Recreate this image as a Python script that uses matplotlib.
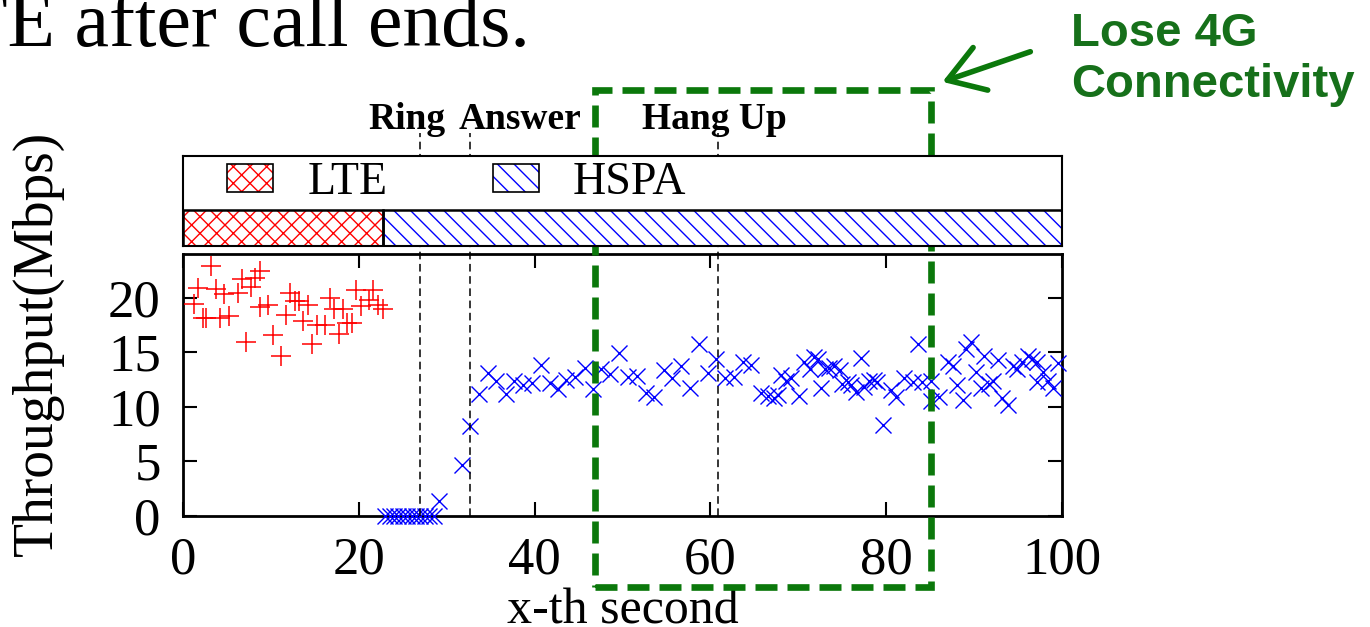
import matplotlib
matplotlib.use('Agg')
import matplotlib.pyplot as plt
import matplotlib.transforms as mtransforms
from matplotlib.patches import Patch, Rectangle, FancyArrowPatch
from matplotlib.legend_handler import HandlerTuple

plt.rcParams['font.family'] = ['Liberation Serif', 'DejaVu Serif']
plt.rcParams['hatch.linewidth'] = 1.0

# throughput samples while on LTE (seconds, Mbps)
lte_t = [1.2, 1.7, 2.3, 2.6, 3.2, 3.7, 4.2, 4.7, 5.2, 6.2, 6.7, 7.2, 7.7, 8.2,
         8.7, 8.8, 9.7, 10.2, 11.2, 11.7, 12.2, 12.7, 13.2, 13.7, 14.2, 14.7,
         15.2, 16.2, 16.7, 17.2, 17.7, 18.2, 18.7, 19.2, 19.7, 20.2, 21.2,
         21.6, 22.2, 22.7]
lte_tput = [19.4, 20.9, 18.1, 18.1, 22.9, 20.8, 18.1, 20.3, 18.3, 20.4, 21.7,
            15.9, 21.0, 21.8, 22.4, 19.1, 19.3, 16.6, 14.7, 18.4, 20.4, 19.7,
            19.7, 17.9, 19.3, 15.8, 17.5, 17.5, 20.0, 19.0, 16.7, 19.0, 17.7,
            17.7, 20.7, 19.2, 19.8, 20.7, 19.3, 19.0]

# throughput samples after falling back to HSPA
hspa_t = [23.0, 23.5, 24.0, 24.5, 25.0, 25.5, 26.0, 26.5, 27.0, 27.5, 28.0,
          28.5, 29.1, 31.7, 32.7, 33.7, 34.7, 35.6, 36.7, 37.7, 38.7, 39.7,
          40.7, 41.7, 42.7, 43.6, 44.6, 45.7, 46.6, 47.6, 48.6, 49.6, 50.6,
          51.6, 52.7, 53.6, 54.7, 55.6, 56.7, 57.7, 58.7, 59.7, 60.6, 61.7,
          62.7, 63.7, 64.6, 65.8, 66.5, 67.2, 67.7, 68.0, 68.6, 69.2, 70.1,
          70.7, 71.3, 71.8, 72.2, 72.6, 73.0, 73.5, 74.1, 74.7, 75.0, 75.6,
          76.0, 76.6, 77.1, 77.5, 78.0, 78.6, 79.0, 79.6, 80.5, 81.1, 82.0,
          83.0, 83.6, 84.1, 85.1, 85.1, 86.0, 87.0, 87.6, 88.1, 88.7, 89.1,
          89.6, 90.2, 90.8, 91.1, 91.7, 92.1, 92.7, 93.2, 93.8, 94.4, 94.9,
          95.5, 96.1, 96.6, 97.2, 97.2, 97.8, 98.4, 99.0, 99.5]
hspa_tput = [0, 0, 0, 0, 0, 0, 0, 0, 0, 0, 0,
             0, 1.4, 4.7, 8.2, 11.2, 13.1, 12.4, 11.2, 12.4, 12.0, 12.2,
             13.8, 12.2, 11.6, 12.5, 12.7, 13.6, 11.6, 13.5, 13.05, 14.9, 12.7,
             12.8, 11.3, 10.9, 13.4, 12.6, 13.7, 11.7, 15.8, 13.1, 14.4, 12.6,
             12.7, 14.1, 13.8, 11.3, 11.0, 10.8, 11.1, 12.9, 12.4, 12.6, 11.0,
             14.1, 13.5, 14.6, 14.4, 11.7, 13.5, 13.6, 13.7, 13.4, 12.1, 12.3,
             12.0, 11.4, 14.5, 11.8, 12.4, 12.5, 12.3, 8.3, 11.5, 10.9, 12.6,
             12.3, 15.8, 12.3, 12.4, 10.5, 10.9, 14.1, 13.7, 12.0, 10.6, 15.3,
             15.9, 13.2, 11.7, 14.7, 12.1, 12.4, 14.3, 10.8, 10.2, 13.7, 13.5,
             14.1, 14.7, 14.4, 14.1, 12.3, 13.2, 12.4, 11.7, 14.0]

# serving network timeline
net_names = ['LTE', 'HSPA']
net_start = [0, 22.8]
net_end = [22.8, 100]
net_colors = ['red', 'blue']
net_hatch = ['xx', '\\\\']

# call events
event_t = [27.0, 32.7, 60.9]
event_names = ['Ring', 'Answer', 'Hang Up']
event_label_x = [25.5, 38.3, 60.5]

lost_window = (46.9, 85.1)
green = '#0b780b'
text_green = '#16701a'

fig = plt.figure(figsize=(13.7, 6.27), dpi=100)
ax = fig.add_axes([0.1336, 0.177, 0.6416, 0.4179])
ax_net = fig.add_axes([0.1336, 0.6077, 0.6416, 0.1435])

# throughput scatter
ax.plot(lte_t, lte_tput, ls='none', marker='+', ms=15, mew=1.1, color='red', zorder=3)
ax.plot(hspa_t, hspa_tput, ls='none', marker='x', ms=11.5, mew=1.0, color='blue',
        clip_on=False, zorder=3)
ax.set_xlim(0, 100)
ax.set_ylim(0, 24)
ax.set_xticks([0, 20, 40, 60, 80, 100])
ax.set_yticks([0, 5, 10, 15, 20])
ax.tick_params(direction='in', length=10, width=1.5, top=True, right=True,
               labelsize=38)
ax.tick_params(axis='x', pad=15)
ax.tick_params(axis='y', pad=16)
for s in ax.spines.values():
    s.set_linewidth(2)
ax.set_xlabel('x-th second', fontsize=36)
ax.xaxis.set_label_coords(0.5, -0.275)
ax.set_ylabel('Throughput(Mbps)', fontsize=40)
ax.yaxis.set_label_coords(-0.135, 0.66)

# network type strip
for name, a, b, c, h in zip(net_names, net_start, net_end, net_colors, net_hatch):
    ax_net.barh(0.5, b - a, left=a, height=1, color='none', edgecolor=c,
                hatch=h, lw=0)
    ax_net.barh(0.5, b - a, left=a, height=1, fill=False, edgecolor='black', lw=1.8)
ax_net.set_xlim(0, 100)
ax_net.set_ylim(0, 2.5)
ax_net.set_xticks([])
ax_net.set_yticks([])
for s in ax_net.spines.values():
    s.set_linewidth(1.5)

handles = []
for c, h in zip(net_colors, net_hatch):
    handles.append((Patch(facecolor='none', edgecolor=c, hatch=h, lw=0),
                    Patch(facecolor='none', edgecolor='black', lw=1.2)))
ax_net.legend(handles, net_names, ncol=2, frameon=False, fontsize=33,
              loc='center left', bbox_to_anchor=(0.05, 0.7), borderaxespad=0,
              borderpad=0, handlelength=1.0, handleheight=0.55,
              handletextpad=0.75, columnspacing=2.3,
              handler_map={tuple: HandlerTuple(ndivide=1)})

# call event markers across both panels
trans = mtransforms.blended_transform_factory(ax.transData, fig.transFigure)
for t, lx, name in zip(event_t, event_label_x, event_names):
    ax.plot([t, t], [0.177, 0.788], transform=trans, clip_on=False, color='black',
            lw=1.1, ls=(0, (5, 3)), zorder=6)
    ax.text(lx, 0.81, name, transform=trans, ha='center', va='center',
            fontsize=27, fontweight='bold')

# highlighted window where 4G is lost
ax.add_artist(Rectangle((lost_window[0], 0.064), lost_window[1] - lost_window[0],
                        0.792, transform=trans, fill=False, edgecolor=green,
                        lw=4.8, ls=(0, (3.3, 1.5)), clip_on=False, zorder=10))
fig.add_artist(FancyArrowPatch((0.754, 0.919), (0.686, 0.868),
                               transform=fig.transFigure,
                               arrowstyle='->,head_length=0.7,head_width=0.45',
                               mutation_scale=36, lw=4, color=green))
fig.text(0.782, 0.926, 'Lose 4G', color=text_green, fontsize=34, fontweight='bold',
         family='Liberation Sans', ha='left', va='baseline')
fig.text(0.782, 0.846, 'Connectivity', color=text_green, fontsize=34,
         fontweight='bold', family='Liberation Sans', ha='left', va='baseline')

# tail of the caption line above the figure
fig.text(-0.029, 0.926, 'TE after call ends.', fontsize=56, ha='left',
         va='baseline')

fig.savefig('out.png', dpi=100)
